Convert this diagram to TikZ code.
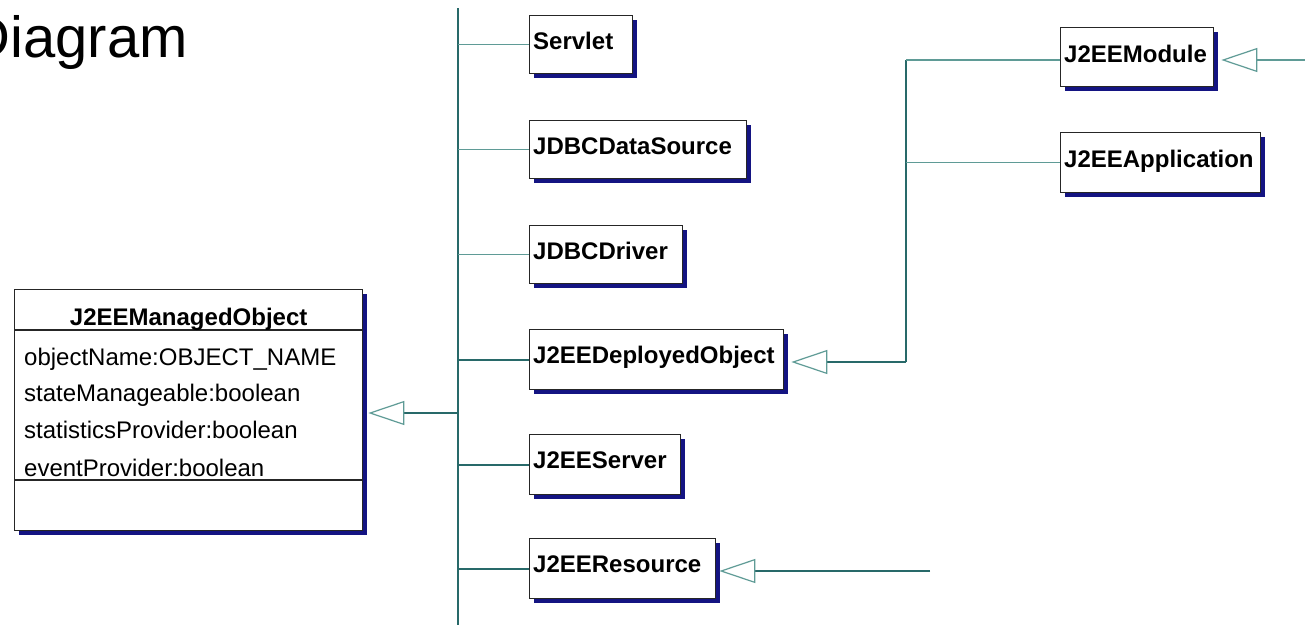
\documentclass[tikz,border=0pt]{standalone}
\usepackage{fontspec}
\setmainfont{Liberation Sans}
\usetikzlibrary{arrows.meta,shadows,calc}
\definecolor{trunk}{RGB}{40,105,105}
\definecolor{branch}{RGB}{95,155,150}
\definecolor{shade}{RGB}{20,20,130}
\tikzset{
  cls/.style={draw=black!85,line width=1.3pt,fill=white,anchor=north west,inner sep=0pt,
     drop shadow={shadow xshift=4pt,shadow yshift=-4pt,opacity=1,fill=shade}},
  lbl/.style={anchor=base west,inner sep=0pt,font=\fontsize{24}{28}\selectfont\bfseries},
  attr/.style={anchor=base west,inner sep=0pt,font=\fontsize{24}{28}\selectfont},
  sep/.style={draw=black!85,line width=1.3pt},
  darkline/.style={draw=trunk,line width=2pt},
  lightline/.style={draw=branch,line width=1.5pt},
  gen/.style={-{Triangle[open,length=36pt,width=24pt,line width=1.2pt,color=branch]}},
}
\begin{document}
\begin{tikzpicture}[x=1pt,y=-1pt]
\useasboundingbox[fill=white] (0,0) rectangle (1305,625);

\node[anchor=base east,inner sep=0pt,font=\fontsize{58}{60}\selectfont] (title) at (188,57) {Diagram};

% left class
\node[cls,minimum width=348pt,minimum height=241pt] (mo) at (14,289) {};
\coordinate (s1a) at ($(mo.north west)+(0,41)$);
\coordinate (s1b) at ($(mo.north east)+(0,41)$);
\coordinate (s2a) at ($(mo.north west)+(0,191)$);
\coordinate (s2b) at ($(mo.north east)+(0,191)$);
\draw[sep] (s1a) -- (s1b);
\draw[sep] (s2a) -- (s2b);
\node[lbl,anchor=base] (moT) at ($(mo.north)+(0,36)$) {J2EEManagedObject};
\node[attr] (a1) at ($(mo.north west)+(10,76)$) {objectName:OBJECT\_NAME};
\node[attr] (a2) at ($(mo.north west)+(10,112)$) {stateManageable:boolean};
\node[attr] (a3) at ($(mo.north west)+(10,149)$) {statisticsProvider:boolean};
\node[attr] (a4) at ($(mo.north west)+(10,187)$) {eventProvider:boolean};

% middle classes
\node[cls,minimum width=103pt,minimum height=58pt] (servlet) at (529,15) {};
\node[lbl] (servletT) at ($(servlet.north west)+(4,34)$) {Servlet};
\node[cls,minimum width=217pt,minimum height=58pt] (ds) at (529,120) {};
\node[lbl] (dsT) at ($(ds.north west)+(4,34)$) {JDBCDataSource};
\node[cls,minimum width=153pt,minimum height=58pt] (drv) at (529,225) {};
\node[lbl] (drvT) at ($(drv.north west)+(4,34)$) {JDBCDriver};
\node[cls,minimum width=254pt,minimum height=60pt] (dep) at (529,329) {};
\node[lbl] (depT) at ($(dep.north west)+(4,34)$) {J2EEDeployedObject};
\node[cls,minimum width=151pt,minimum height=60pt] (srv) at (529,434) {};
\node[lbl] (srvT) at ($(srv.north west)+(4,34)$) {J2EEServer};
\node[cls,minimum width=186pt,minimum height=60pt] (res) at (529,538) {};
\node[lbl] (resT) at ($(res.north west)+(4,34)$) {J2EEResource};

% right classes
\node[cls,minimum width=153pt,minimum height=59pt] (mod) at (1060,27) {};
\node[lbl] (modT) at ($(mod.north west)+(4,35)$) {J2EEModule};
\node[cls,minimum width=200pt,minimum height=60pt] (app) at (1060,132) {};
\node[lbl] (appT) at ($(app.north west)+(4,35)$) {J2EEApplication};

% main trunk
\coordinate (t0) at (458,8);
\coordinate (t1) at (458,625);
\draw[darkline] (t0) -- (t1);
\draw[lightline] (servlet.west -| t0) -- (servlet.west);
\draw[lightline] (ds.west -| t0) -- (ds.west);
\draw[lightline] (drv.west -| t0) -- (drv.west);
\draw[darkline] (dep.west -| t0) -- (dep.west);
\draw[darkline] (srv.west -| t0) -- (srv.west);
\draw[darkline] (res.west -| t0) -- (res.west);
\coordinate (moA) at (458,413);
\draw[darkline,gen,shorten >=5pt] (moA) -- (moA -| mo.east);

% right trunk
\coordinate (rt0) at (906,60);
\coordinate (rt1) at (906,362);
\draw[darkline] (rt0) -- (rt1);
\draw[darkline,gen,shorten >=7pt] (rt1) -- (rt1 -| dep.east);
\draw[lightline] (rt0) -- (rt0 -| mod.west);
\draw[lightline] (app.west -| rt0) -- (app.west);

\coordinate (mE) at (1305,60);
\draw[lightline,gen,shorten >=7pt] (mE) -- (mE -| mod.east);
\coordinate (rE) at (930,571);
\draw[darkline,gen,shorten >=3pt] (rE) -- (rE -| res.east);
\end{tikzpicture}
\end{document}
